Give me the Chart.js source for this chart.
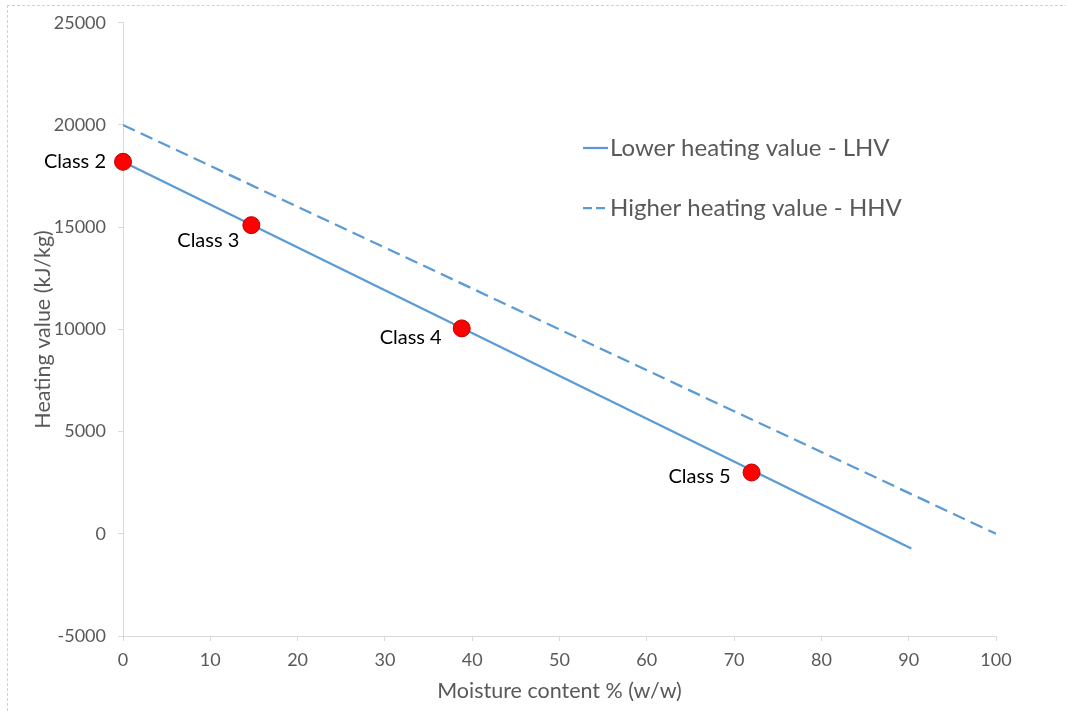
<!DOCTYPE html>
<html>
<head>
<meta charset="utf-8">
<script src="https://cdn.jsdelivr.net/npm/chart.js@4.4.0/dist/chart.umd.min.js"></script>
<style>
  html, body { margin: 0; padding: 0; background: #fff; }
  #wrap { position: absolute; left: 0; top: 0; width: 1066px; height: 711px; }
  #frame { position: absolute; left: 7px; top: 5px; width: 1070px; height: 720px;
           border-left: 1px dashed #d0d0d0; border-top: 1px dashed #d0d0d0; pointer-events: none; }
  canvas { position: absolute; left: 0; top: 0; }
</style>
</head>
<body>
<div id="wrap">
  <canvas id="c" width="1066" height="711"></canvas>
  <div id="frame"></div>
</div>
<script>
// ---- data ----
const hhvMoisture = [0, 100];
const hhvValues = [20000, 0];
const lhvMoisture = [0, 90.3];
const lhvValues = [18200, -720];
const classLabels = ['Class 2', 'Class 3', 'Class 4', 'Class 5'];
const classMoisture = [0, 14.7, 38.8, 72];
const classValues = [18200, 15100, 10050, 3000];
const xTicks = [0, 10, 20, 30, 40, 50, 60, 70, 80, 90, 100];
const yTicks = [-5000, 0, 5000, 10000, 15000, 20000, 25000];
const seriesNames = ['Lower heating value - LHV', 'Higher heating value - HHV'];
const xTitle = 'Moisture content % (w/w)';
const yTitle = 'Heating value (kJ/kg)';

const FONT = 'Lato, "Open Sans", sans-serif';
const BLUE = '#5b9bd5';
const GREY_TXT = '#595959';
const AXIS = '#d9d9d9';

const toPts = (xs, ys) => xs.map((x, i) => ({ x: x, y: ys[i] }));

// label offsets relative to each class point (right-aligned text)
const labelOffsets = [[-17, 0], [-12, 15], [-20, 9], [-21, 4]];

const classLabelPlugin = {
  id: 'classLabels',
  afterDatasetsDraw(chart) {
    const ctx = chart.ctx;
    const xs = chart.scales.x, ys = chart.scales.y;
    ctx.save();
    ctx.font = '20px ' + FONT;
    ctx.fillStyle = '#000';
    ctx.textAlign = 'right';
    ctx.textBaseline = 'middle';
    classLabels.forEach((lab, i) => {
      const px = xs.getPixelForValue(classMoisture[i]);
      const py = ys.getPixelForValue(classValues[i]);
      ctx.fillText(lab, px + labelOffsets[i][0], py + labelOffsets[i][1]);
    });
    ctx.restore();
  }
};

const legendPlugin = {
  id: 'customLegend',
  afterDraw(chart) {
    const ctx = chart.ctx;
    const items = [
      { text: seriesNames[0], dash: [] },
      { text: seriesNames[1], dash: [9, 4] }
    ];
    const x0 = 583, y0 = 148, gap = 60;
    ctx.save();
    ctx.font = '24px ' + FONT;
    ctx.fillStyle = GREY_TXT;
    ctx.textBaseline = 'middle';
    items.forEach((it, i) => {
      const y = y0 + i * gap;
      ctx.strokeStyle = BLUE;
      ctx.lineWidth = 2.25;
      ctx.setLineDash(it.dash);
      ctx.beginPath();
      ctx.moveTo(x0, y);
      ctx.lineTo(x0 + 25, y);
      ctx.stroke();
      ctx.setLineDash([]);
      ctx.fillText(it.text, x0 + 27, y);
    });
    ctx.restore();
  }
};

new Chart(document.getElementById('c'), {
  type: 'scatter',
  data: {
    datasets: [
      {
        label: seriesNames[1],
        type: 'line',
        data: toPts(hhvMoisture, hhvValues),
        borderColor: BLUE,
        borderWidth: 2.25,
        borderDash: [13, 6.5],
        pointRadius: 0,
        fill: false,
        order: 3
      },
      {
        label: seriesNames[0],
        type: 'line',
        data: toPts(lhvMoisture, lhvValues),
        borderColor: BLUE,
        borderWidth: 2.25,
        pointRadius: 0,
        fill: false,
        order: 2
      },
      {
        label: 'Classes',
        data: toPts(classMoisture, classValues),
        backgroundColor: '#ff0000',
        borderColor: '#c00000',
        borderWidth: 1,
        pointRadius: 8.5,
        clip: false,
        order: 1
      }
    ]
  },
  options: {
    responsive: false,
    animation: false,
    layout: { padding: { left: 0, top: 22, right: 70, bottom: 0 } },
    plugins: {
      legend: { display: false },
      tooltip: { enabled: false }
    },
    scales: {
      x: {
        type: 'linear',
        min: 0, max: 100,
        afterBuildTicks(s) { s.ticks = xTicks.map(v => ({ value: v })); },
        afterFit(s) { s.height = 711 - 636; },
        grid: { drawOnChartArea: false, drawTicks: true, tickLength: 5, color: AXIS },
        border: { color: AXIS, width: 1 },
        ticks: { color: GREY_TXT, font: { family: FONT, size: 18 }, padding: 8 },
        title: { display: true, text: xTitle, color: GREY_TXT, font: { family: FONT, size: 21.5 }, padding: { top: 0, bottom: 7 } }
      },
      y: {
        type: 'linear',
        min: -5000, max: 25000,
        afterBuildTicks(s) { s.ticks = yTicks.map(v => ({ value: v })); },
        afterFit(s) { s.width = 123; },
        grid: { drawOnChartArea: false, drawTicks: true, tickLength: 5, color: AXIS },
        border: { color: AXIS, width: 1 },
        ticks: { color: GREY_TXT, font: { family: FONT, size: 18 }, padding: 12,
                 callback: v => String(v) },
        title: { display: true, text: yTitle, color: GREY_TXT, font: { family: FONT, size: 21.5 }, padding: { top: 30, bottom: 0 } }
      }
    }
  },
  plugins: [classLabelPlugin, legendPlugin]
});
</script>
</body>
</html>
